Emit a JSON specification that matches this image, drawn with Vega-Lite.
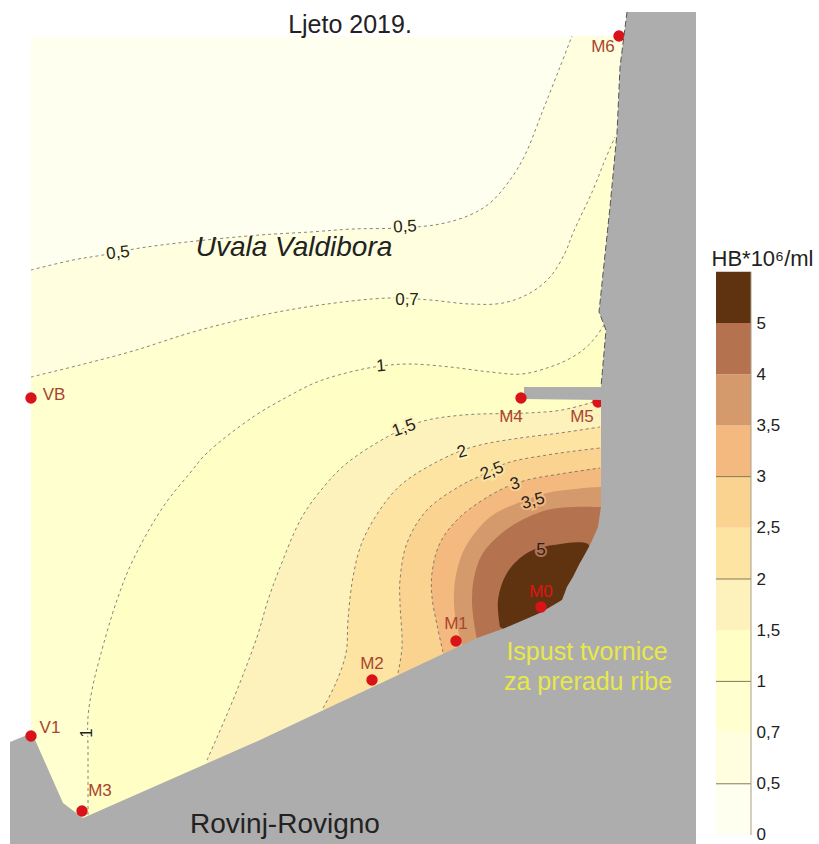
{"$schema":"https://vega.github.io/schema/vega-lite/v6.json","padding":0,"background":"white","spacing":20,"bounds":"flush","config":{"view":{"stroke":null},"font":"Liberation Sans"},
"datasets":{
"zones":[
{"level":"0","seq":1,"x":31,"y":36,"contour":0},{"level":"0","seq":2,"x":690,"y":36,"contour":0},{"level":"0","seq":3,"x":690,"y":830,"contour":0},{"level":"0","seq":4,"x":31,"y":830,"contour":0},
{"level":"0,5","seq":1,"x":31,"y":270,"contour":1},{"level":"0,5","seq":2,"x":73,"y":260,"contour":1},{"level":"0,5","seq":3,"x":103,"y":255,"contour":1},{"level":"0,5","seq":4,"x":140,"y":248,"contour":1},{"level":"0,5","seq":5,"x":187,"y":242,"contour":1},{"level":"0,5","seq":6,"x":260,"y":235,"contour":1},{"level":"0,5","seq":7,"x":310,"y":232,"contour":1},{"level":"0,5","seq":8,"x":353,"y":229,"contour":1},{"level":"0,5","seq":9,"x":400,"y":228,"contour":1},{"level":"0,5","seq":10,"x":440,"y":224,"contour":1},{"level":"0,5","seq":11,"x":470,"y":215,"contour":1},{"level":"0,5","seq":12,"x":490,"y":203,"contour":1},{"level":"0,5","seq":13,"x":510,"y":180,"contour":1},{"level":"0,5","seq":14,"x":525,"y":155,"contour":1},{"level":"0,5","seq":15,"x":543,"y":110,"contour":1},{"level":"0,5","seq":16,"x":560,"y":67,"contour":1},{"level":"0,5","seq":17,"x":572,"y":36,"contour":1},{"level":"0,5","seq":18,"x":572,"y":36,"contour":0},{"level":"0,5","seq":19,"x":690,"y":36,"contour":0},{"level":"0,5","seq":20,"x":690,"y":36,"contour":0},{"level":"0,5","seq":21,"x":690,"y":830,"contour":0},{"level":"0,5","seq":22,"x":31,"y":830,"contour":0},
{"level":"0,7","seq":1,"x":31,"y":377,"contour":1},{"level":"0,7","seq":2,"x":80,"y":365,"contour":1},{"level":"0,7","seq":3,"x":133,"y":351,"contour":1},{"level":"0,7","seq":4,"x":193,"y":332,"contour":1},{"level":"0,7","seq":5,"x":253,"y":317,"contour":1},{"level":"0,7","seq":6,"x":320,"y":305,"contour":1},{"level":"0,7","seq":7,"x":390,"y":298,"contour":1},{"level":"0,7","seq":8,"x":430,"y":300,"contour":1},{"level":"0,7","seq":9,"x":470,"y":304,"contour":1},{"level":"0,7","seq":10,"x":503,"y":303,"contour":1},{"level":"0,7","seq":11,"x":530,"y":293,"contour":1},{"level":"0,7","seq":12,"x":550,"y":277,"contour":1},{"level":"0,7","seq":13,"x":565,"y":253,"contour":1},{"level":"0,7","seq":14,"x":573,"y":233,"contour":1},{"level":"0,7","seq":15,"x":593,"y":190,"contour":1},{"level":"0,7","seq":16,"x":605,"y":160,"contour":1},{"level":"0,7","seq":17,"x":615,"y":137,"contour":1},{"level":"0,7","seq":18,"x":690,"y":137,"contour":0},{"level":"0,7","seq":19,"x":690,"y":830,"contour":0},{"level":"0,7","seq":20,"x":31,"y":830,"contour":0},
{"level":"1","seq":1,"x":88,"y":815,"contour":1},{"level":"1","seq":2,"x":88,"y":780,"contour":1},{"level":"1","seq":3,"x":88,"y":750,"contour":1},{"level":"1","seq":4,"x":88,"y":717,"contour":1},{"level":"1","seq":5,"x":92,"y":690,"contour":1},{"level":"1","seq":6,"x":100,"y":657,"contour":1},{"level":"1","seq":7,"x":117,"y":600,"contour":1},{"level":"1","seq":8,"x":133,"y":560,"contour":1},{"level":"1","seq":9,"x":163,"y":507,"contour":1},{"level":"1","seq":10,"x":190,"y":473,"contour":1},{"level":"1","seq":11,"x":207,"y":453,"contour":1},{"level":"1","seq":12,"x":253,"y":417,"contour":1},{"level":"1","seq":13,"x":287,"y":397,"contour":1},{"level":"1","seq":14,"x":317,"y":382,"contour":1},{"level":"1","seq":15,"x":350,"y":372,"contour":1},{"level":"1","seq":16,"x":381,"y":366,"contour":1},{"level":"1","seq":17,"x":410,"y":364,"contour":1},{"level":"1","seq":18,"x":450,"y":367,"contour":1},{"level":"1","seq":19,"x":490,"y":372,"contour":1},{"level":"1","seq":20,"x":522,"y":374,"contour":1},{"level":"1","seq":21,"x":550,"y":367,"contour":1},{"level":"1","seq":22,"x":567,"y":360,"contour":1},{"level":"1","seq":23,"x":583,"y":350,"contour":1},{"level":"1","seq":24,"x":595,"y":338,"contour":1},{"level":"1","seq":25,"x":604,"y":325,"contour":1},{"level":"1","seq":26,"x":690,"y":325,"contour":0},{"level":"1","seq":27,"x":690,"y":830,"contour":0},{"level":"1","seq":28,"x":88,"y":830,"contour":0},
{"level":"1,5","seq":1,"x":207,"y":760,"contour":1},{"level":"1,5","seq":2,"x":233,"y":700,"contour":1},{"level":"1,5","seq":3,"x":257,"y":637,"contour":1},{"level":"1,5","seq":4,"x":268,"y":600,"contour":1},{"level":"1,5","seq":5,"x":279,"y":570,"contour":1},{"level":"1,5","seq":6,"x":302,"y":517,"contour":1},{"level":"1,5","seq":7,"x":327,"y":483,"contour":1},{"level":"1,5","seq":8,"x":347,"y":463,"contour":1},{"level":"1,5","seq":9,"x":387,"y":437,"contour":1},{"level":"1,5","seq":10,"x":420,"y":422,"contour":1},{"level":"1,5","seq":11,"x":463,"y":415,"contour":1},{"level":"1,5","seq":12,"x":527,"y":413,"contour":1},{"level":"1,5","seq":13,"x":562,"y":410,"contour":1},{"level":"1,5","seq":14,"x":597,"y":401,"contour":1},{"level":"1,5","seq":15,"x":690,"y":401,"contour":0},{"level":"1,5","seq":16,"x":690,"y":830,"contour":0},{"level":"1,5","seq":17,"x":207,"y":830,"contour":0},
{"level":"2","seq":1,"x":323,"y":708,"contour":1},{"level":"2","seq":2,"x":335,"y":685,"contour":1},{"level":"2","seq":3,"x":346,"y":653,"contour":1},{"level":"2","seq":4,"x":348,"y":620,"contour":1},{"level":"2","seq":5,"x":353,"y":577,"contour":1},{"level":"2","seq":6,"x":363,"y":540,"contour":1},{"level":"2","seq":7,"x":387,"y":500,"contour":1},{"level":"2","seq":8,"x":407,"y":480,"contour":1},{"level":"2","seq":9,"x":453,"y":454,"contour":1},{"level":"2","seq":10,"x":480,"y":445,"contour":1},{"level":"2","seq":11,"x":520,"y":438,"contour":1},{"level":"2","seq":12,"x":560,"y":433,"contour":1},{"level":"2","seq":13,"x":600,"y":427,"contour":1},{"level":"2","seq":14,"x":690,"y":427,"contour":0},{"level":"2","seq":15,"x":690,"y":830,"contour":0},{"level":"2","seq":16,"x":323,"y":830,"contour":0},
{"level":"2,5","seq":1,"x":398,"y":673,"contour":1},{"level":"2,5","seq":2,"x":402,"y":647,"contour":1},{"level":"2,5","seq":3,"x":400,"y":603,"contour":1},{"level":"2,5","seq":4,"x":400,"y":580,"contour":1},{"level":"2,5","seq":5,"x":407,"y":543,"contour":1},{"level":"2,5","seq":6,"x":427,"y":510,"contour":1},{"level":"2,5","seq":7,"x":460,"y":486,"contour":1},{"level":"2,5","seq":8,"x":480,"y":476,"contour":1},{"level":"2,5","seq":9,"x":507,"y":463,"contour":1},{"level":"2,5","seq":10,"x":547,"y":455,"contour":1},{"level":"2,5","seq":11,"x":575,"y":451,"contour":1},{"level":"2,5","seq":12,"x":600,"y":448,"contour":1},{"level":"2,5","seq":13,"x":690,"y":448,"contour":0},{"level":"2,5","seq":14,"x":690,"y":830,"contour":0},{"level":"2,5","seq":15,"x":398,"y":830,"contour":0},
{"level":"3","seq":1,"x":443,"y":652,"contour":1},{"level":"3","seq":2,"x":437,"y":625,"contour":1},{"level":"3","seq":3,"x":432,"y":597,"contour":1},{"level":"3","seq":4,"x":432,"y":573,"contour":1},{"level":"3","seq":5,"x":440,"y":543,"contour":1},{"level":"3","seq":6,"x":460,"y":517,"contour":1},{"level":"3","seq":7,"x":500,"y":490,"contour":1},{"level":"3","seq":8,"x":527,"y":480,"contour":1},{"level":"3","seq":9,"x":560,"y":474,"contour":1},{"level":"3","seq":10,"x":600,"y":468,"contour":1},{"level":"3","seq":11,"x":690,"y":468,"contour":0},{"level":"3","seq":12,"x":690,"y":830,"contour":0},{"level":"3","seq":13,"x":443,"y":830,"contour":0},
{"level":"3,5","seq":1,"x":462,"y":645,"contour":0},{"level":"3,5","seq":2,"x":455,"y":615,"contour":0},{"level":"3,5","seq":3,"x":454,"y":593,"contour":0},{"level":"3,5","seq":4,"x":457,"y":570,"contour":0},{"level":"3,5","seq":5,"x":466,"y":546,"contour":0},{"level":"3,5","seq":6,"x":490,"y":517,"contour":0},{"level":"3,5","seq":7,"x":520,"y":502,"contour":0},{"level":"3,5","seq":8,"x":547,"y":493,"contour":0},{"level":"3,5","seq":9,"x":575,"y":489,"contour":0},{"level":"3,5","seq":10,"x":600,"y":487,"contour":0},{"level":"3,5","seq":11,"x":690,"y":487,"contour":0},{"level":"3,5","seq":12,"x":690,"y":830,"contour":0},{"level":"3,5","seq":13,"x":462,"y":830,"contour":0},
{"level":"4","seq":1,"x":477,"y":640,"contour":0},{"level":"4","seq":2,"x":473,"y":615,"contour":0},{"level":"4","seq":3,"x":472,"y":600,"contour":0},{"level":"4","seq":4,"x":474,"y":578,"contour":0},{"level":"4","seq":5,"x":483,"y":553,"contour":0},{"level":"4","seq":6,"x":510,"y":527,"contour":0},{"level":"4","seq":7,"x":547,"y":510,"contour":0},{"level":"4","seq":8,"x":575,"y":507,"contour":0},{"level":"4","seq":9,"x":600,"y":507,"contour":0},{"level":"4","seq":10,"x":690,"y":507,"contour":0},{"level":"4","seq":11,"x":690,"y":830,"contour":0},{"level":"4","seq":12,"x":477,"y":830,"contour":0},
{"level":"5","seq":1,"x":500,"y":627,"contour":0},{"level":"5","seq":2,"x":498,"y":600,"contour":0},{"level":"5","seq":3,"x":507,"y":573,"contour":0},{"level":"5","seq":4,"x":527,"y":553,"contour":0},{"level":"5","seq":5,"x":553,"y":545,"contour":0},{"level":"5","seq":6,"x":588,"y":544,"contour":0},{"level":"5","seq":7,"x":588,"y":553,"contour":0},{"level":"5","seq":8,"x":580,"y":563,"contour":0},{"level":"5","seq":9,"x":573,"y":577,"contour":0},{"level":"5","seq":10,"x":567,"y":587,"contour":0},{"level":"5","seq":11,"x":562,"y":600,"contour":0},{"level":"5","seq":12,"x":540,"y":613,"contour":0},{"level":"5","seq":13,"x":505,"y":630,"contour":0}
],
"land":[
{"level":"kopno","seq":1,"x":627,"y":12},{"level":"kopno","seq":2,"x":696,"y":12},{"level":"kopno","seq":3,"x":696,"y":844},{"level":"kopno","seq":4,"x":10,"y":844},{"level":"kopno","seq":5,"x":10,"y":742},{"level":"kopno","seq":6,"x":32,"y":733},{"level":"kopno","seq":7,"x":63,"y":803},{"level":"kopno","seq":8,"x":83,"y":818},{"level":"kopno","seq":9,"x":260,"y":740},{"level":"kopno","seq":10,"x":430,"y":660},{"level":"kopno","seq":11,"x":477,"y":638},{"level":"kopno","seq":12,"x":505,"y":628},{"level":"kopno","seq":13,"x":540,"y":613},{"level":"kopno","seq":14,"x":562,"y":600},{"level":"kopno","seq":15,"x":567,"y":587},{"level":"kopno","seq":16,"x":573,"y":577},{"level":"kopno","seq":17,"x":580,"y":563},{"level":"kopno","seq":18,"x":590,"y":545},{"level":"kopno","seq":19,"x":598,"y":527},{"level":"kopno","seq":20,"x":601,"y":507},{"level":"kopno","seq":21,"x":601,"y":400},{"level":"kopno","seq":22,"x":524,"y":399},{"level":"kopno","seq":23,"x":524,"y":387},{"level":"kopno","seq":24,"x":601,"y":387},{"level":"kopno","seq":25,"x":606,"y":330},{"level":"kopno","seq":26,"x":599,"y":312},{"level":"kopno","seq":27,"x":610,"y":207},{"level":"kopno","seq":28,"x":617,"y":133},{"level":"kopno","seq":29,"x":620,"y":67}
],
"stations":[
{"name":"VB","x":31,"y":398,"lx":54,"ly":395,"cut":0},{"name":"V1","x":31,"y":736,"lx":50,"ly":728,"cut":0},{"name":"M3","x":82,"y":811,"lx":100,"ly":791,"cut":0},{"name":"M2","x":372,"y":680,"lx":372,"ly":664,"cut":0},{"name":"M1","x":456,"y":641,"lx":456,"ly":624,"cut":0},{"name":"M0","x":541,"y":607,"lx":541,"ly":592,"cut":0},{"name":"M4","x":521,"y":398,"lx":511,"ly":417,"cut":0},{"name":"M5","x":598,"y":402,"lx":582,"ly":417,"cut":1},{"name":"M6","x":619,"y":36,"lx":603,"ly":47,"cut":1}
],
"tags":[
{"text":"0,5","level":"0,5","x":118,"y":253,"bearing":-6},{"text":"0,5","level":"0,5","x":405,"y":227,"bearing":-3},{"text":"0,7","level":"0,7","x":407,"y":300,"bearing":0},{"text":"1","level":"1","x":381,"y":366,"bearing":-5},{"text":"1,5","level":"1,5","x":404,"y":428,"bearing":-20},{"text":"2","level":"1,5","x":462,"y":452,"bearing":-15},{"text":"2,5","level":"2","x":492,"y":471,"bearing":-22},{"text":"3","level":"2,5","x":515,"y":484,"bearing":-15},{"text":"3,5","level":"3","x":533,"y":501,"bearing":-15},{"text":"5","level":"4","x":541,"y":550,"bearing":0},{"text":"1","level":"0,7","x":87,"y":733,"bearing":-90}
],
"shore":[
{"seq":1,"x":627,"y":12},{"seq":2,"x":620,"y":67},{"seq":3,"x":617,"y":133},{"seq":4,"x":610,"y":207},{"seq":5,"x":599,"y":312},{"seq":6,"x":606,"y":330},{"seq":7,"x":601,"y":387}
],
"scale":[
{"level":"0","low":0,"high":1,"mark":0},{"level":"0,5","low":1,"high":2,"mark":1},{"level":"0,7","low":2,"high":3,"mark":0},{"level":"1","low":3,"high":4,"mark":1},{"level":"1,5","low":4,"high":5,"mark":0},{"level":"2","low":5,"high":6,"mark":1},{"level":"2,5","low":6,"high":7,"mark":0},{"level":"3","low":7,"high":8,"mark":1},{"level":"3,5","low":8,"high":9,"mark":0},{"level":"4","low":9,"high":10,"mark":0},{"level":"5","low":10,"high":11,"mark":0}
]},
"hconcat":[
{"width":696,"height":844,
"layer":[
{"data":{"name":"zones"},"transform":[{"filter":"datum.level==='0'"}],"mark":{"type":"line","strokeWidth":0},"encoding":{
"x":{"field":"x","type":"quantitative","axis":null,"scale":{"domain":[0,696],"nice":false,"zero":false}},
"y":{"field":"y","type":"quantitative","axis":null,"scale":{"domain":[844,0],"nice":false,"zero":false}},
"order":{"field":"seq"},"detail":{"field":"level"},
"fill":{"field":"level","type":"nominal","legend":null,"scale":{"domain":["0","0,5","0,7","1","1,5","2","2,5","3","3,5","4","5","kopno"],"range":["#fffff0","#ffffdf","#ffffd0","#fffec4","#fdf1bc","#fde4a2","#fbd391","#f4b97f","#d49a6c","#b5724f","#5f3310","#adadad"]}}}},
{"data":{"name":"zones"},"transform":[{"filter":"datum.level!=='0'"}],"mark":{"type":"line","strokeWidth":0,"interpolate":"catmull-rom","clip":true},"encoding":{
"x":{"field":"x","type":"quantitative"},
"y":{"field":"y","type":"quantitative"},
"order":{"field":"seq"},"detail":{"field":"level"},
"fill":{"field":"level","type":"nominal","legend":null,"sort":null,"scale":{"domain":["0","0,5","0,7","1","1,5","2","2,5","3","3,5","4","5","kopno"],"range":["#fffff0","#ffffdf","#ffffd0","#fffec4","#fdf1bc","#fde4a2","#fbd391","#f4b97f","#d49a6c","#b5724f","#5f3310","#adadad"]}}}},
{"data":{"name":"zones"},"transform":[{"filter":"datum.contour===1"}],"mark":{"type":"line","stroke":"#666","strokeWidth":0.8,"strokeDash":[3,3],"interpolate":"catmull-rom"},"encoding":{"x":{"field":"x","type":"quantitative"},"y":{"field":"y","type":"quantitative"},"order":{"field":"seq"},"detail":{"field":"level"}}},
{"data":{"name":"stations"},"transform":[{"filter":"datum.cut===1"}],"mark":{"type":"circle","size":130,"opacity":1,"color":"#d8141a"},"encoding":{"x":{"field":"x","type":"quantitative"},"y":{"field":"y","type":"quantitative"}}},
{"data":{"name":"land"},"mark":{"type":"line","strokeWidth":0},"encoding":{"x":{"field":"x","type":"quantitative"},"y":{"field":"y","type":"quantitative"},"order":{"field":"seq"},"fill":{"field":"level","type":"nominal","legend":null,"scale":{"domain":["0","0,5","0,7","1","1,5","2","2,5","3","3,5","4","5","kopno"],"range":["#fffff0","#ffffdf","#ffffd0","#fffec4","#fdf1bc","#fde4a2","#fbd391","#f4b97f","#d49a6c","#b5724f","#5f3310","#adadad"]}}}},
{"data":{"name":"shore"},"mark":{"type":"line","stroke":"#555","strokeWidth":1,"strokeDash":[6,3]},"encoding":{"x":{"field":"x","type":"quantitative"},"y":{"field":"y","type":"quantitative"},"order":{"field":"seq"}}},
{"data":{"name":"stations"},"transform":[{"filter":"datum.cut===0"}],"mark":{"type":"circle","size":130,"opacity":1,"color":"#d8141a"},"encoding":{"x":{"field":"x","type":"quantitative"},"y":{"field":"y","type":"quantitative"}}},
{"data":{"name":"stations"},"mark":{"type":"text","fontSize":17,"baseline":"middle"},"encoding":{"x":{"field":"lx","type":"quantitative"},"y":{"field":"ly","type":"quantitative"},"text":{"field":"name"},"color":{"condition":{"test":"datum.name==='M0'","value":"#e01414"},"value":"#a8452d"}}},
{"data":{"name":"tags"},"mark":{"type":"text","fontSize":17,"strokeWidth":4,"baseline":"middle"},"encoding":{"x":{"field":"x","type":"quantitative"},"y":{"field":"y","type":"quantitative"},"text":{"field":"text"},"angle":{"field":"bearing","type":"quantitative","scale":null},"stroke":{"field":"level","type":"nominal","legend":null,"scale":{"domain":["0","0,5","0,7","1","1,5","2","2,5","3","3,5","4","5"],"range":["#fffff0","#ffffdf","#ffffd0","#fffec4","#fdf1bc","#fde4a2","#fbd391","#f4b97f","#d49a6c","#b5724f","#5f3310"]}}}},
{"data":{"name":"tags"},"mark":{"type":"text","fontSize":17,"color":"#222","baseline":"middle"},"encoding":{"x":{"field":"x","type":"quantitative"},"y":{"field":"y","type":"quantitative"},"text":{"field":"text"},"angle":{"field":"bearing","type":"quantitative","scale":null}}},
{"data":{"values":[{"text":"Ljeto 2019.","x":350,"y":24.5}]},"mark":{"type":"text","fontSize":25,"color":"#222","baseline":"middle"},"encoding":{"x":{"field":"x","type":"quantitative"},"y":{"field":"y","type":"quantitative"},"text":{"field":"text"}}},
{"data":{"values":[{"text":"Uvala Valdibora","x":294,"y":248}]},"mark":{"type":"text","fontSize":28,"fontStyle":"italic","color":"#222","baseline":"middle"},"encoding":{"x":{"field":"x","type":"quantitative"},"y":{"field":"y","type":"quantitative"},"text":{"field":"text"}}},
{"data":{"values":[{"text":"Rovinj-Rovigno","x":285,"y":825}]},"mark":{"type":"text","fontSize":28,"color":"#222","baseline":"middle"},"encoding":{"x":{"field":"x","type":"quantitative"},"y":{"field":"y","type":"quantitative"},"text":{"field":"text"}}},
{"data":{"values":[{"text":"Ispust tvornice","x":587,"y":651.5},{"text":"za preradu ribe","x":588,"y":681.5}]},"mark":{"type":"text","fontSize":25,"color":"#e8e84a","baseline":"middle"},"encoding":{"x":{"field":"x","type":"quantitative"},"y":{"field":"y","type":"quantitative"},"text":{"field":"text"}}}
]},
{"width":35,"height":844,"data":{"name":"scale"},
"layer":[
{"mark":{"type":"rect"},"encoding":{
"y":{"field":"low","type":"quantitative","scale":{"domain":[-0.176,16.31],"nice":false,"zero":false},"axis":{"orient":"right","values":[0,1,2,3,4,5,6,7,8,9,10],"labelExpr":"['0','0,5','0,7','1','1,5','2','2,5','3','3,5','4','5'][datum.value]","labelFontSize":17,"labelColor":"#222","labelPadding":5,"ticks":false,"domain":false,"grid":false,"title":"HB*10⁶/ml","titleFontSize":22,"titleFontWeight":"normal","titleColor":"#222","titleAngle":0,"titleX":11,"titleY":258,"titleAlign":"center","titleBaseline":"middle"}},
"y2":{"field":"high"},
"fill":{"field":"level","type":"nominal","legend":null,"scale":{"domain":["0","0,5","0,7","1","1,5","2","2,5","3","3,5","4","5"],"range":["#fffff0","#ffffdf","#ffffd0","#ffffc2","#fdeeb4","#fde39f","#fbd391","#f4b97f","#d49a6c","#b5724f","#5f3310"]}}}},
{"transform":[{"filter":"datum.mark===1"}],"mark":{"type":"rule","color":"#85795a","strokeWidth":1},"encoding":{"y":{"field":"low","type":"quantitative"}}},
{"mark":{"type":"rule","color":"#a89f88","strokeWidth":1},"encoding":{"x":{"value":35},"y":{"field":"low","type":"quantitative"},"y2":{"field":"high"}}}
]}
]}
